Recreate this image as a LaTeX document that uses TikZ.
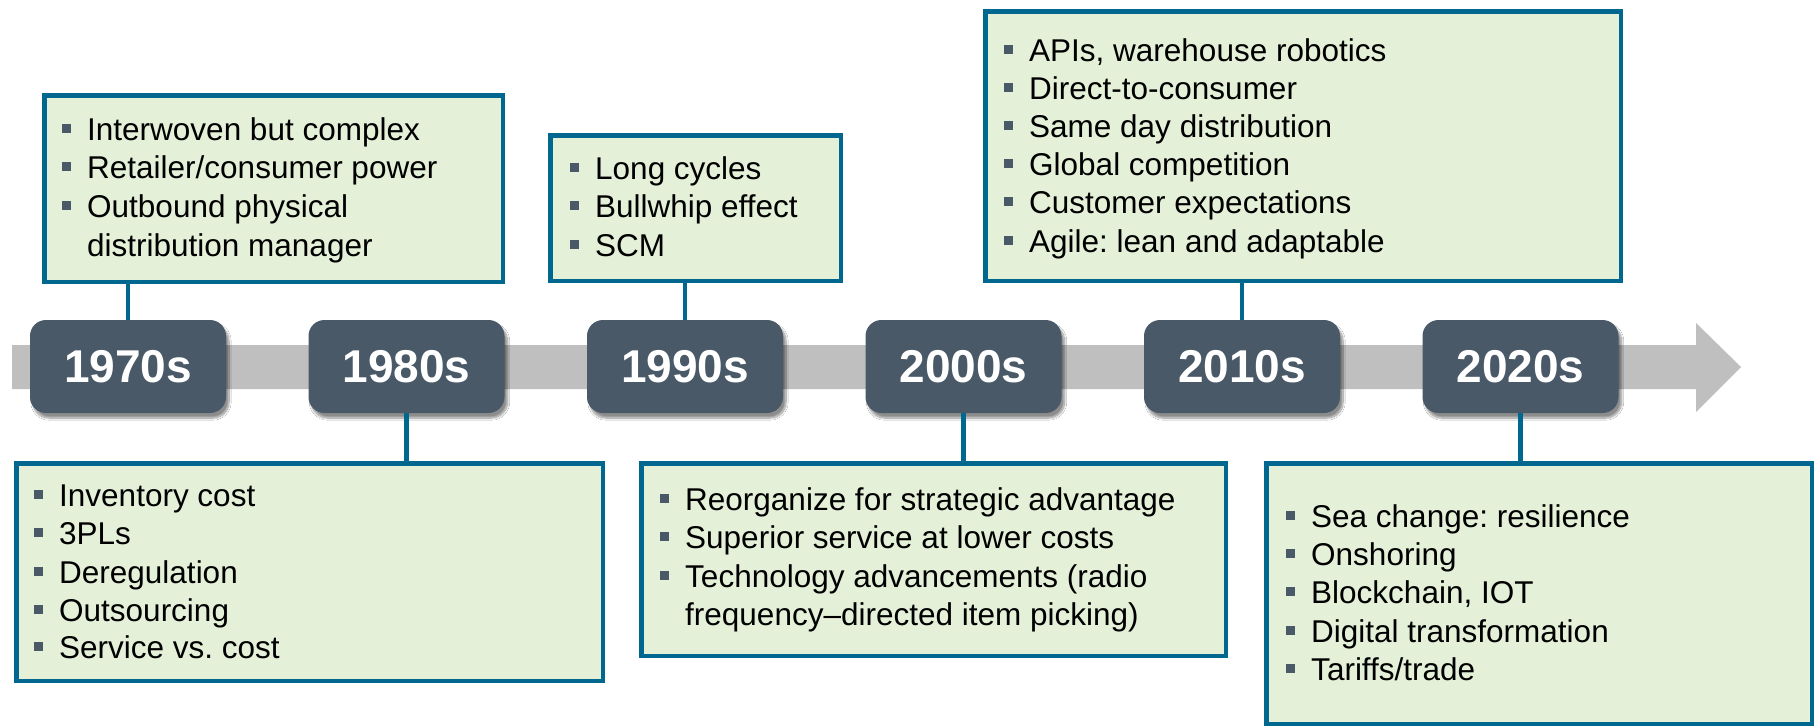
\documentclass[tikz,border=0pt]{standalone}
\usepackage{fontspec}
\setmainfont{Liberation Sans}
\usetikzlibrary{shadows.blur}
\frenchspacing
\definecolor{tlborder}{RGB}{0,104,143}
\definecolor{tlgreen}{RGB}{228,240,216}
\definecolor{tldark}{RGB}{73,89,103}
\definecolor{tlgray}{RGB}{191,191,191}
\newcommand\bulline[4]{\node[itemtext] (#1) at (#2,#3) {#4};
  \node[bul] (#1m) at ({#2-20.5},{#3-11.5}) {};}
\newcommand\contline[4]{\node[itemtext] (#1) at (#2,#3) {#4};}
\begin{document}
\begin{tikzpicture}[x=1pt,y=-1pt,
  yearbox/.style={rounded corners=16pt, fill=tldark, minimum width=196pt,
    minimum height=93pt, text=white, inner sep=0pt,
    font=\fontsize{46}{50}\selectfont\bfseries,
    blur shadow={shadow xshift=3pt, shadow yshift=-5pt, shadow blur steps=10, shadow opacity=45}},
  infobox/.style={draw=tlborder, line width=4.5pt, fill=tlgreen, inner sep=0pt, anchor=north west},
  bul/.style={fill=tldark, minimum size=8.5pt, inner sep=0pt},
  itemtext/.style={anchor=base west, font=\fontsize{31.5}{38}\selectfont\frenchspacing, inner sep=0pt, text=black},
  link/.style={draw=tlborder, line width=4.5pt}]
\useasboundingbox (0,0) rectangle (1814,726);
\fill[white] (0,0) rectangle (1814,726);
% timeline band
\fill[tlgray] (12,345) -- (1696,345) -- (1696,323) -- (1741,367) -- (1696,412) -- (1696,389) -- (12,389) -- cycle;
% info boxes
\node[infobox, minimum width=458.5pt, minimum height=186.5pt] (b70) at (42.25,93.25) {};
\node[infobox, minimum width=290.5pt, minimum height=145.5pt] (b90) at (548.25,133.25) {};
\node[infobox, minimum width=635.5pt, minimum height=269.5pt] (b10) at (983.25,9.25) {};
\node[infobox, minimum width=586.5pt, minimum height=217.5pt] (b80) at (14.25,461.25) {};
\node[infobox, minimum width=584.5pt, minimum height=192.5pt] (b00) at (639.25,461.25) {};
\node[infobox, minimum width=545.5pt, minimum height=260.5pt] (b20) at (1264.25,461.25) {};
% year boxes
\node[yearbox] (y70) at (128,366.5) {1970s};
\node[yearbox] (y80) at (406.5,366.5) {1980s};
\node[yearbox] (y90) at (685,366.5) {1990s};
\node[yearbox] (y00) at (963.5,366.5) {2000s};
\node[yearbox] (y10) at (1242,366.5) {2010s};
\node[yearbox] (y20) at (1520.5,366.5) {2020s};
% connectors
\draw[link] (y70.north) -- (y70.north |- b70.south);
\draw[link] (y90.north) -- (y90.north |- b90.south);
\draw[link] (y10.north) -- (y10.north |- b10.south);
\draw[link] (y80.south) -- (y80.south |- b80.north);
\draw[link] (y00.south) -- (y00.south |- b00.north);
\draw[link] (y20.south) -- (y20.south |- b20.north);
% texts 1970s
\bulline{a1}{87}{140}{Interwoven but complex}
\bulline{a2}{87}{178}{Retailer/consumer power}
\bulline{a3}{87}{217}{Outbound physical}
\contline{a4}{87}{256}{distribution manager}
% 1990s
\bulline{c1}{595}{179}{Long cycles}
\bulline{c2}{595}{217}{Bullwhip effect}
\bulline{c3}{595}{256}{SCM}
% 2010s
\bulline{e1}{1029}{61}{APIs, warehouse robotics}
\bulline{e2}{1029}{99}{Direct-to-consumer}
\bulline{e3}{1029}{137}{Same day distribution}
\bulline{e4}{1029}{175}{Global competition}
\bulline{e5}{1029}{213}{Customer expectations}
\bulline{e6}{1029}{252}{Agile: lean and adaptable}
% 1980s
\bulline{b1}{59}{506}{Inventory cost}
\bulline{b2}{59}{544}{3PLs}
\bulline{b3}{59}{583}{Deregulation}
\bulline{b4}{59}{621}{Outsourcing}
\bulline{b5}{59}{658}{Service vs. cost}
% 2000s
\bulline{d1}{685}{510}{Reorganize for strategic advantage}
\bulline{d2}{685}{548}{Superior service at lower costs}
\bulline{d3}{685}{587}{Technology advancements (radio}
\contline{d4}{685}{625}{frequency–directed item picking)}
% 2020s
\bulline{f1}{1311}{527}{Sea change: resilience}
\bulline{f2}{1311}{565}{Onshoring}
\bulline{f3}{1311}{603}{Blockchain, IOT}
\bulline{f4}{1311}{642}{Digital transformation}
\bulline{f5}{1311}{680}{Tariffs/trade}
\end{tikzpicture}
\end{document}
